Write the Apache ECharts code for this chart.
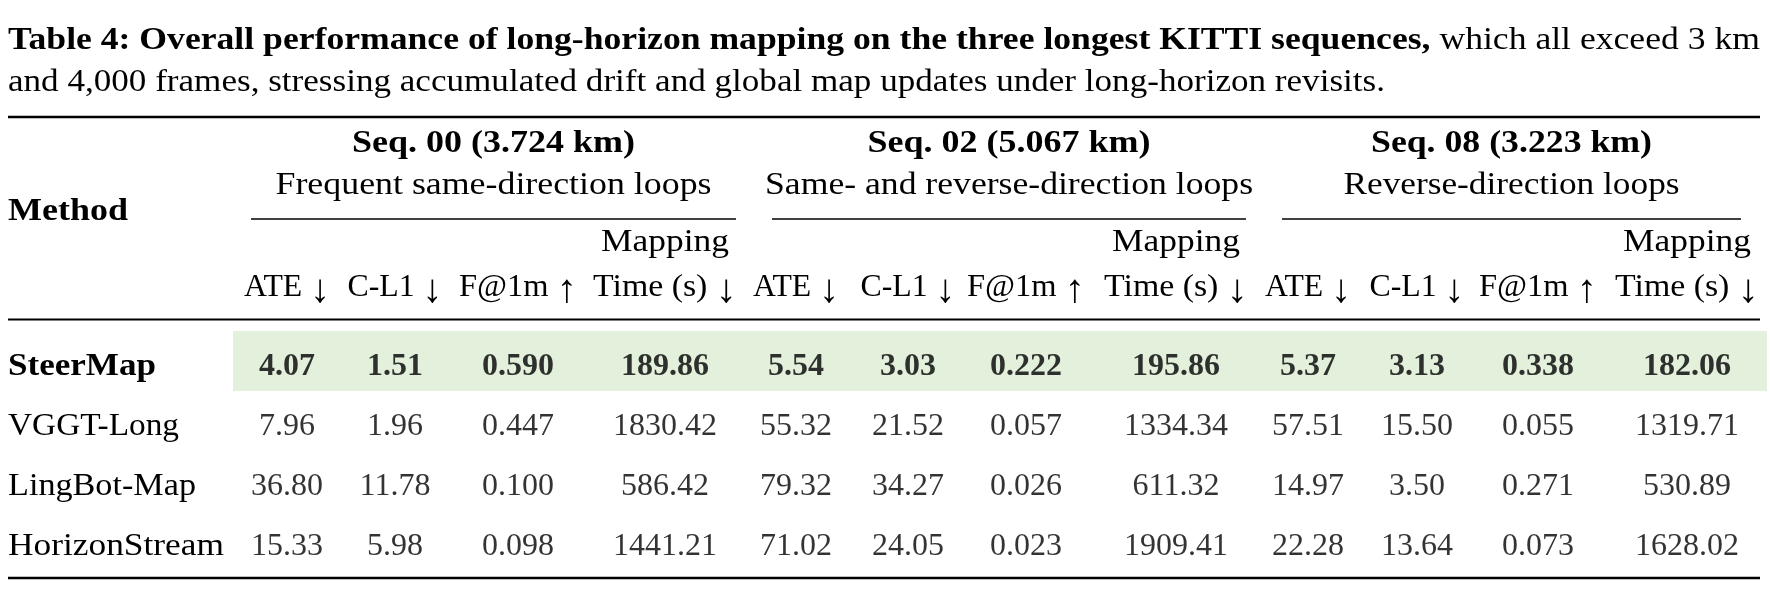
<!DOCTYPE html>
<html>
<head>
<meta charset="utf-8">
<script src="https://cdn.jsdelivr.net/npm/echarts@6/dist/echarts.min.js"></script>
<style>
html,body{margin:0;padding:0;background:#ffffff;}
#chart{width:1770px;height:600px;}
</style>
</head>
<body>
<div id="chart"></div>
<script>
// ---------------- DATA ----------------
const methods = ['SteerMap', 'VGGT-Long', 'LingBot-Map', 'HorizonStream'];
const highlightMethod = 'SteerMap';

// Seq. 00
const ate00  = [4.07, 7.96, 36.80, 15.33];
const cl100  = [1.51, 1.96, 11.78, 5.98];
const f00    = [0.590, 0.447, 0.100, 0.098];
const time00 = [189.86, 1830.42, 586.42, 1441.21];
// Seq. 02
const ate02  = [5.54, 55.32, 79.32, 71.02];
const cl102  = [3.03, 21.52, 34.27, 24.05];
const f02    = [0.222, 0.057, 0.026, 0.023];
const time02 = [195.86, 1334.34, 611.32, 1909.41];
// Seq. 08
const ate08  = [5.37, 57.51, 14.97, 22.28];
const cl108  = [3.13, 15.50, 3.50, 13.64];
const f08    = [0.338, 0.055, 0.271, 0.073];
const time08 = [182.06, 1319.71, 530.89, 1628.02];

const seqTitles    = ['Seq. 00 (3.724 km)', 'Seq. 02 (5.067 km)', 'Seq. 08 (3.223 km)'];
const seqSubtitles = ['Frequent same-direction loops', 'Same- and reverse-direction loops', 'Reverse-direction loops'];
const metricNames  = ['ATE', 'C-L1', 'F@1m', 'Time (s)'];
const metricArrows = ['↓', '↓', '↑', '↓'];
const timeHeaderTop = 'Mapping';
const methodHeader = 'Method';
const metricDecimals = [2, 2, 3, 2];

const captionBold = 'Table 4: Overall performance of long-horizon mapping on the three longest KITTI sequences,';
const captionRest = ' which all exceed 3 km';
const captionLine2 = 'and 4,000 frames, stressing accumulated drift and global map updates under long-horizon revisits.';

// ---------------- LAYOUT ----------------
const FONT = '"Liberation Serif", "Times New Roman", serif';
const FS = 32;
const ARROW_FS = 40;
const INK = '#000';
const LEFT = 8, RIGHT = 1760;
const COL_X = [287, 395, 518, 665, 796, 908, 1026, 1176, 1308, 1417, 1538, 1687];
const GROUP_SPAN = [[251, 736], [772, 1246], [1282, 1741]];
const TITLE_W = [283, 283, 281];
const SUB_W = [436, 488, 336];
const HEADER_W = [86, 95, 118, 144];
const MAPPING_W = 128;
const METHOD_HEADER_W = 120;
const METHOD_W = [148, 171, 188, 216];
const CAP2_W = 1377;
const Y = {cap1: 41, cap2: 82.5, top: 117, title: 143.5, sub: 185.5, method: 211.5, cmid: 219,
           mapping: 242.5, metric: 288, mid: 319.5, bottom: 578};
const BAND = [233, 1767];

const seqColumns = [
  [ate00, cl100, f00, time00],
  [ate02, cl102, f02, time02],
  [ate08, cl108, f08, time08]
];

const ctx = document.createElement('canvas').getContext('2d');
function measure(text, weight, size) {
  ctx.font = (weight || 'normal') + ' ' + (size || FS) + 'px ' + FONT;
  return ctx.measureText(text).width;
}

// ---------------- GRAPHIC (caption, header, rules) ----------------
const graphics = [];
function hline(x1, x2, y, w) {
  graphics.push({type: 'line', silent: true, z: 10,
    shape: {x1: x1, y1: y, x2: x2, y2: y},
    style: {stroke: '#000', lineWidth: w}});
}
function txt(text, x, y, opt) {
  opt = opt || {};
  graphics.push({type: 'text', silent: true, z: 10, x: x, y: y, scaleX: opt.scaleX || 1,
    style: {text: text, fill: INK, fontFamily: FONT, fontSize: FS,
      fontWeight: opt.weight || 'normal', align: opt.align || 'center', verticalAlign: 'middle',
      rich: opt.rich}});
}
const richBase = {
  b: {fontWeight: 'bold', fontFamily: FONT, fontSize: FS, fill: INK},
  n: {fontWeight: 'normal', fontFamily: FONT, fontSize: FS, fill: INK},
  a: {fontWeight: 'normal', fontFamily: FONT, fontSize: ARROW_FS, fill: INK, padding: [0, 0, -6, 0]}
};

// caption
const capW1 = measure(captionBold, 'bold') + measure(captionRest, 'normal');
const capW2 = measure(captionLine2, 'normal');
txt('{b|' + captionBold + '}{n|' + captionRest + '}', LEFT, Y.cap1,
  {align: 'left', scaleX: (RIGHT - LEFT) / capW1, rich: richBase});
txt(captionLine2, LEFT, Y.cap2, {align: 'left', scaleX: CAP2_W / capW2});

// rules
hline(LEFT, RIGHT, Y.top, 2.6);
hline(LEFT, RIGHT, Y.mid, 2.2);
hline(LEFT, RIGHT, Y.bottom, 2.6);
GROUP_SPAN.forEach(function (s) { hline(s[0], s[1], Y.cmid, 1.3); });

// header
txt(methodHeader, LEFT, Y.method, {align: 'left', weight: 'bold',
  scaleX: METHOD_HEADER_W / measure(methodHeader, 'bold')});
seqTitles.forEach(function (t, s) {
  const cx = (GROUP_SPAN[s][0] + GROUP_SPAN[s][1]) / 2;
  txt(t, cx, Y.title, {weight: 'bold', scaleX: TITLE_W[s] / measure(t, 'bold')});
  txt(seqSubtitles[s], cx, Y.sub, {scaleX: SUB_W[s] / measure(seqSubtitles[s], 'normal')});
  metricNames.forEach(function (h, m) {
    const w = measure(h + ' ', 'normal') + measure(metricArrows[m], 'normal', ARROW_FS);
    txt('{n|' + h + ' }{a|' + metricArrows[m] + '}', COL_X[s * 4 + m], Y.metric,
      {scaleX: HEADER_W[m] / w, rich: richBase});
  });
  txt(timeHeaderTop, COL_X[s * 4 + 3], Y.mapping, {scaleX: MAPPING_W / measure(timeHeaderTop, 'normal')});
});

// ---------------- SERIES ----------------
const series = [];
// highlight band for the proposed method
series.push({
  type: 'custom', z: 1, silent: true,
  encode: {x: [0, 1], y: 2},
  data: [[BAND[0], BAND[1], methods.indexOf(highlightMethod)]],
  renderItem: function (params, api) {
    const a = api.coord([api.value(0), api.value(2)]);
    const b = api.coord([api.value(1), api.value(2)]);
    const h = api.size([0, 1])[1];
    return {type: 'rect', shape: {x: a[0], y: a[1] - h * 0.59, width: b[0] - a[0], height: h},
      style: {fill: '#e2f0dc'}};
  }
});

// method names (first column)
series.push({
  type: 'custom', z: 3, silent: true,
  encode: {x: 0, y: 1},
  data: methods.map(function (name, i) { return [LEFT, i]; }),
  renderItem: function (params, api) {
    const i = params.dataIndex;
    const p = api.coord([api.value(0), api.value(1)]);
    const name = methods[i];
    const bold = name === highlightMethod;
    return {type: 'text', x: p[0], y: p[1],
      scaleX: METHOD_W[i] / measure(name, bold ? 'bold' : 'normal'),
      style: {text: name, fill: INK, fontFamily: FONT, fontSize: FS,
        fontWeight: bold ? 'bold' : 'normal', align: 'left', verticalAlign: 'middle'}};
  }
});

function labelStyle(isBold) {
  return {show: true, position: 'inside', align: 'center', verticalAlign: 'middle',
    fontFamily: FONT, fontSize: FS, color: INK, fontWeight: isBold ? 'bold' : 'normal'};
}

seqColumns.forEach(function (cols, s) {
  cols.forEach(function (vals, m) {
    series.push({
      type: 'scatter', z: 3, symbolSize: 0, silent: true,
      data: vals.map(function (v, i) {
        return {value: [COL_X[s * 4 + m], methods[i], v],
          label: labelStyle(methods[i] === highlightMethod)};
      }),
      label: {show: true, formatter: function (p) { return p.value[2].toFixed(metricDecimals[m]); }}
    });
  });
});

const chart = echarts.init(document.getElementById('chart'), null, {renderer: 'canvas'});
chart.setOption({
  animation: false,
  backgroundColor: '#ffffff',
  grid: {left: 0, right: 0, top: 336.5, height: 240, containLabel: false},
  xAxis: {type: 'value', min: 0, max: 1770, show: false},
  yAxis: {type: 'category', data: methods, inverse: true, show: false},
  graphic: graphics,
  series: series
});
</script>
</body>
</html>
